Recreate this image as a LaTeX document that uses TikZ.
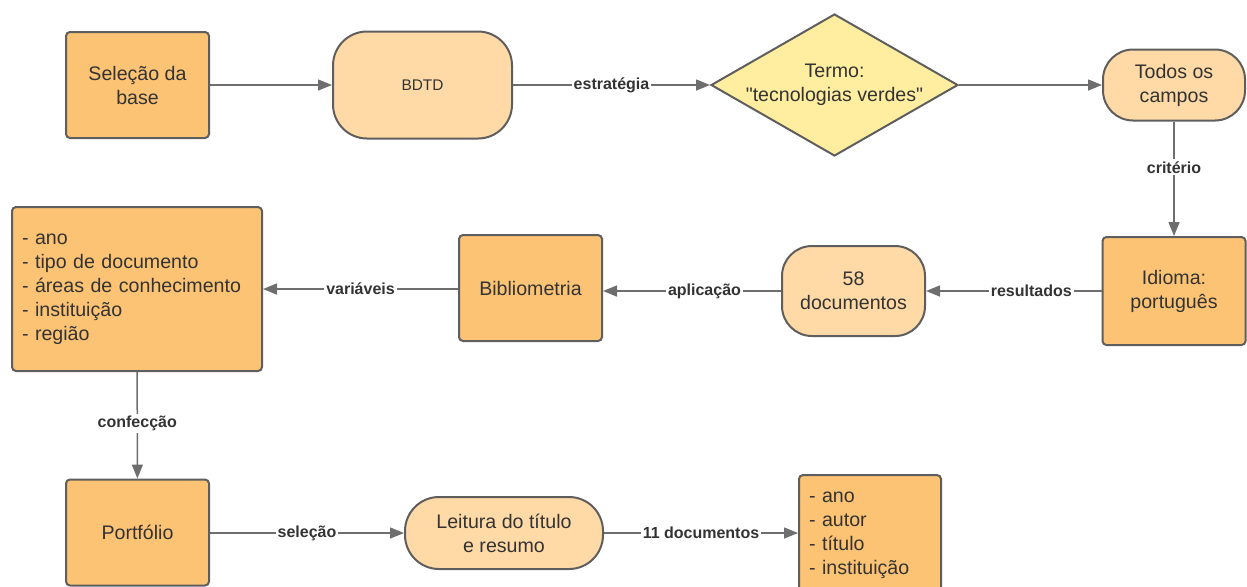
\documentclass[tikz,border=0pt]{standalone}
\usepackage{fontspec}
\setmainfont{Liberation Sans}
\usetikzlibrary{arrows.meta, shapes.geometric, positioning}

\definecolor{boxorange}{RGB}{253,195,116}
\definecolor{lightorange}{RGB}{255,218,166}
\definecolor{termyellow}{RGB}{255,237,160}
\definecolor{linegray}{RGB}{94,94,94}
\definecolor{arrowgray}{RGB}{110,110,110}
\definecolor{textgray}{RGB}{51,51,51}

\newcommand{\mainsize}{\fontsize{9.8}{12}\selectfont}
\newcommand{\lblsize}{\fontsize{8}{9}\selectfont}
\newcommand{\bdtdsize}{\fontsize{7.7}{9}\selectfont}

\begin{document}
\begin{tikzpicture}[x=0.5pt, y=-0.5pt,
	darkbox/.style={draw=linegray, line width=1pt, fill=boxorange, rounded corners=2pt,
		minimum width=71.5pt, minimum height=53pt, align=center, text=textgray, font=\mainsize},
	lightbox/.style={draw=linegray, line width=1pt, fill=lightorange, rounded corners=15pt,
		align=center, text=textgray, font=\mainsize},
	termbox/.style={diamond, draw=linegray, line width=1pt, fill=termyellow, aspect=1.74,
		inner xsep=-4pt, inner ysep=0pt, minimum width=123.5pt, minimum height=71pt, align=center,
		text=textgray, font=\mainsize},
	listbox/.style={draw=linegray, line width=1pt, fill=boxorange, rounded corners=2pt,
		align=left, text=textgray, font=\mainsize, inner xsep=5pt, inner ysep=0pt},
	flow/.style={draw=arrowgray, line width=0.75pt, -{Triangle[length=7pt,width=5.5pt]}},
	lbl/.style={fill=white, inner sep=1pt, text=textgray, font=\bfseries\lblsize}]

	\useasboundingbox (0,0) rectangle (1247,586);

	\node[darkbox] (selbase) at (137.5,85) {Seleção da\\base};
	\node[lightbox, rounded corners=17pt, minimum width=89.5pt, minimum height=53.5pt,
		font=\bdtdsize] (bdtd) at (422.5,85) {BDTD};
	\node[termbox] (termo) at (834.5,85) {Termo:\\\textquotedbl tecnologias verdes\textquotedbl};
	\node[lightbox, minimum width=71pt, minimum height=35.5pt] (campos) at (1174,85) {Todos os\\campos};

	\node[darkbox, minimum height=54pt] (idioma) at (1174,291) {Idioma:\\português};
	\node[lightbox, minimum width=71.5pt, minimum height=45pt] (docs) at (853.5,291) {58\\documentos};
	\node[darkbox] (biblio) at (530.5,288) {Bibliometria};
	\node[listbox, text width=115pt, minimum height=82pt] (varlist) at (137,289)
		{- ano\\- tipo de documento\\- áreas de conhecimento\\- instituição\\- região};

	\node[darkbox] (portf) at (137.5,532.5) {Portfólio};
	\node[lightbox, rounded corners=17pt, minimum width=99pt, minimum height=36pt] (leitura) at (504,533)
		{Leitura do título\\e resumo};
	\node[listbox, text width=61pt, minimum height=60pt] (outlist) at (870,535)
		{- ano\\- autor\\- título\\- instituição};

	\draw[flow] (selbase) -- (bdtd);
	\draw[flow] (bdtd) -- node[lbl] (estrlabel) {estratégia} (termo);
	\draw[flow] (termo) -- (campos);
	\draw[flow] (campos) -- node[lbl, pos=0.4] (critlabel) {critério} (idioma);
	\draw[flow] (idioma) -- node[lbl, pos=0.4] (reslabel) {resultados} (docs.east |- idioma);
	\draw[flow] (docs.west) -- node[lbl, pos=0.43] (aplilabel) {aplicação} (biblio.east |- docs.west);
	\draw[flow] (biblio.west |- varlist) -- node[lbl] (varlabel) {variáveis} (varlist);
	\draw[flow] (varlist) -- node[lbl, pos=0.48] (conflabel) {confecção} (portf);
	\draw[flow] (portf.east |- leitura) -- node[lbl] (sellabel) {seleção} (leitura);
	\draw[flow] (leitura.east) -- node[lbl] (docslabel) {11 documentos} (outlist.west |- leitura.east);

\end{tikzpicture}
\end{document}
